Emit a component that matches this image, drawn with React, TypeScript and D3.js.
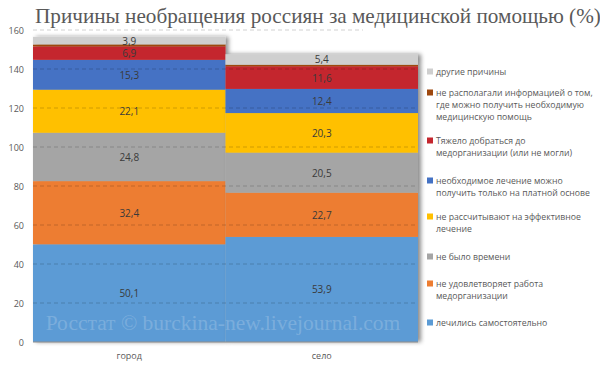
import React from "react";
import * as d3 from "d3";

const categories = ["город", "село"];
const seriesNames = [
  "лечились самостоятельно",
  "не удовлетворяет работа медорганизации",
  "не было времени",
  "не рассчитывают на эффективное лечение",
  "необходимое лечение можно получить только на платной основе",
  "Тяжело добраться до медорганизации (или не могли)",
  "не располагали информацией о том, где можно получить необходимую медицинскую помощь",
  "другие причины",
];
const cityValues = [50.1, 32.4, 24.8, 22.1, 15.3, 6.9, 1.0, 3.9];
const villageValues = [53.9, 22.7, 20.5, 20.3, 12.4, 11.6, 0.8, 5.4];
// label shown inside the segment (null = no label)
const cityLabels = ["50,1", "32,4", "24,8", "22,1", "15,3", "6,9", null, "3,9"];
const villageLabels = ["53,9", "22,7", "20,5", "20,3", "12,4", "11,6", null, "5,4"];
const legendLines = [
  ["лечились самостоятельно"],
  ["не удовлетворяет работа", "медорганизации"],
  ["не было времени"],
  ["не рассчитывают на эффективное", "лечение"],
  ["необходимое лечение можно", "получить только на платной основе"],
  ["Тяжело добраться до", "медорганизации (или не могли)"],
  ["не располагали информацией о том,", "где можно получить необходимую", "медицинскую помощь"],
  ["другие причины"],
];
const legendY = [323, 284, 257, 217, 181, 141, 93, 72];
const colors = ["#5B9BD5", "#ED7D31", "#A5A5A5", "#FFC000", "#4472C4", "#C4262E", "#9E480E", "#CFCFCF"];
const yTicks = [0, 20, 40, 60, 80, 100, 120, 140, 160];

export default function App() {
  const W = 600;
  const H = 368;
  const x = d3.scaleBand().domain(categories).range([33, 418]).padding(0);
  const y = d3.scaleLinear().domain([0, 160]).range([342, 30]);

  const rows = categories.map((c, i) => {
    const vals = i === 0 ? cityValues : villageValues;
    const r: any = { cat: c };
    seriesNames.forEach((s, j) => (r[s] = vals[j]));
    return r;
  });
  const stack = d3.stack<any>().keys(seriesNames)(rows);
  const labels = [cityLabels, villageLabels];

  return (
    <svg width={W} height={H} style={{ display: "block", position: "absolute", left: 0, top: 0 }}>
      <defs>
        <filter id="sh" x="-10%" y="-10%" width="120%" height="120%">
          <feDropShadow dx="3" dy="0" stdDeviation="2" floodColor="#000" floodOpacity="0.45" />
        </filter>
      </defs>
      <rect width={W} height={H} fill="#fff" />
      <text x={35} y={23} fontFamily="Liberation Serif" fontSize={21.2} fill="#595959">
        Причины необращения россиян за медицинской помощью (%)
      </text>
      {categories.map((c, ci) => (
        <g key={c} filter="url(#sh)">
          {stack.map((s, si) => {
            const d = s[ci];
            return (
              <rect
                key={si}
                x={x(c)!}
                width={x.bandwidth()}
                y={y(d[1])}
                height={y(d[0]) - y(d[1])}
                fill={colors[si]}
              />
            );
          })}
        </g>
      ))}
      {yTicks.map((t) => (
        <g key={t}>
          {t > 0 && (
            <line x1={33} x2={t === 160 ? 363 : 418} y1={y(t)} y2={y(t)} stroke="#000" strokeOpacity={0.18} strokeDasharray="4,3" />
          )}
          <text x={24} y={y(t) + 3.5} textAnchor="end" fontFamily="Open Sans" fontSize={9} fill="#595959">
            {t}
          </text>
        </g>
      ))}
      <line x1={33} x2={418} y1={y(0)} y2={y(0)} stroke="#8E8E8E" strokeWidth={1.2} />
      {categories.map((c, ci) =>
        stack.map((s, si) => {
          const lab = labels[ci][si];
          if (!lab) return null;
          const d = s[ci];
          return (
            <text
              key={c + si}
              x={x(c)! + x.bandwidth() / 2}
              y={(y(d[0]) + y(d[1])) / 2 + 4}
              textAnchor="middle"
              fontFamily="Open Sans"
              fontSize={10}
              fill="#3a3a3a"
            >
              {lab}
            </text>
          );
        })
      )}
      <text x={223} y={330} textAnchor="middle" fontFamily="Liberation Serif" fontSize={21.5} fill="#fff" fillOpacity={0.2}>
        Росстат © burckina-new.livejournal.com
      </text>
      {categories.map((c) => (
        <text key={c} x={x(c)! + x.bandwidth() / 2} y={359} textAnchor="middle" fontFamily="Open Sans" fontSize={9} fill="#595959">
          {c}
        </text>
      ))}
      {legendLines.map((lines, i) => (
        <g key={i}>
          <rect x={427} y={legendY[i] - 3.5} width={6} height={6} fill={colors[i]} />
          {lines.map((ln, k) => (
            <text key={k} x={436} y={legendY[i] + 3 + k * 12} fontFamily="Open Sans" fontSize={8.7} fill="#595959">
              {ln}
            </text>
          ))}
        </g>
      ))}
    </svg>
  );
}
